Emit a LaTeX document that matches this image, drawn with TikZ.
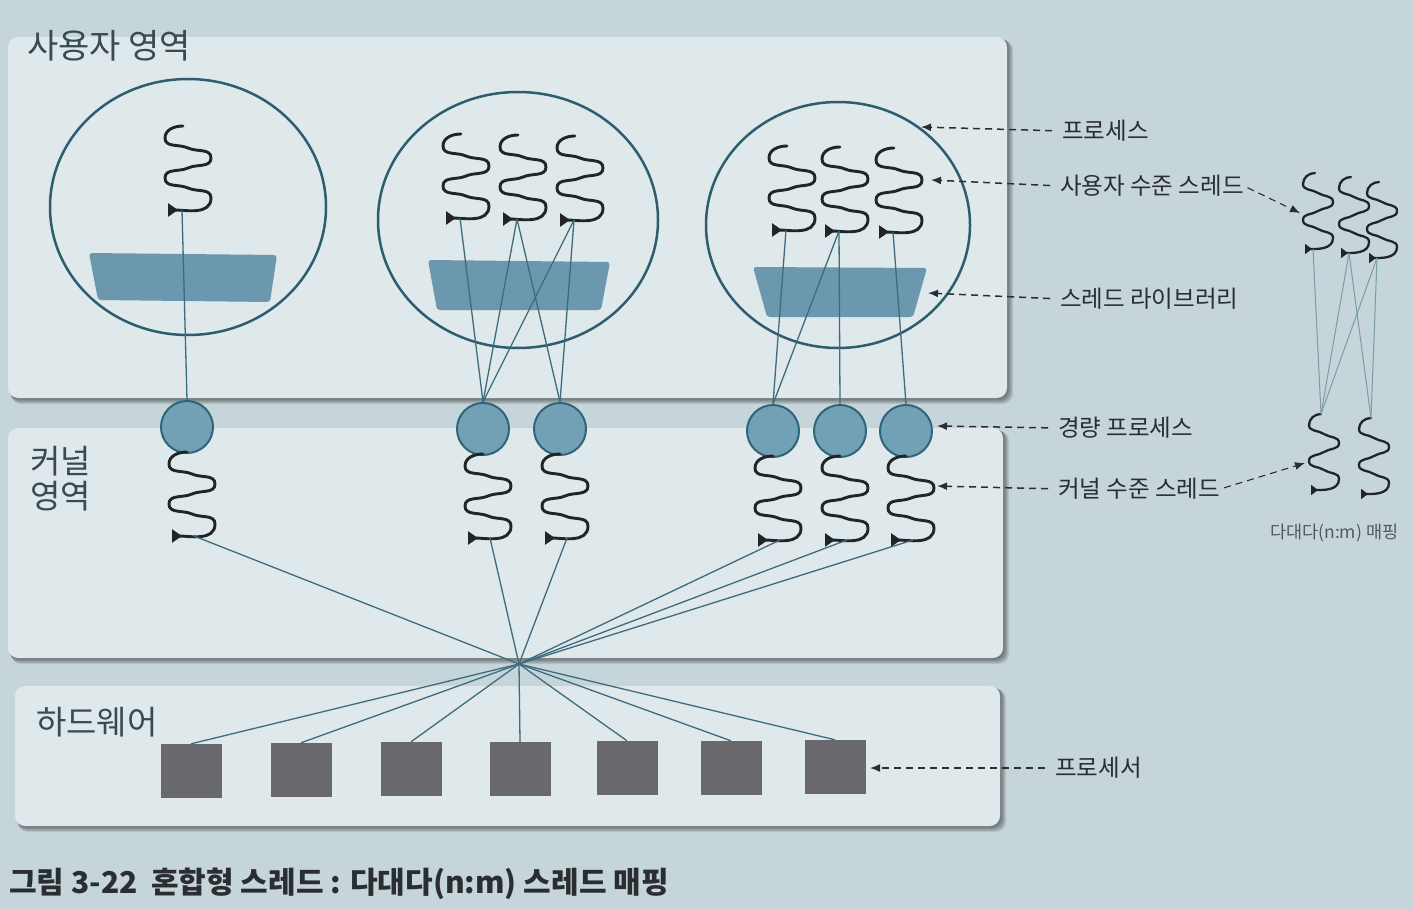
\documentclass[tikz,border=0pt]{standalone}
\usepackage{fontspec}
\setmainfont{Noto Sans CJK KR}
\usetikzlibrary{shapes.geometric,arrows.meta}
\definecolor{bgc}{HTML}{C6D5D9}
\definecolor{panelc}{HTML}{DFE8EB}
\definecolor{ellc}{HTML}{2D5D6E}
\definecolor{libc}{HTML}{6B98AE}
\definecolor{lwpc}{HTML}{72A0B5}
\definecolor{lwpb}{HTML}{2E6579}
\definecolor{conc}{HTML}{3D6C7D}
\definecolor{minic}{HTML}{7C9CA8}
\definecolor{thrc}{HTML}{222526}
\definecolor{cpuc}{HTML}{69696D}
\definecolor{txtc}{HTML}{384A52}
\definecolor{lblc}{HTML}{2A2E30}
\tikzset{
  thrline/.style={draw=thrc, line width=2.9pt, line cap=round,
    -{Triangle[reversed,length=10pt,width=13pt]}},
  thr/.pic={
    \draw[thrline] (-5,0) to[out=180,in=90] (-23,12)
      to[out=-90,in=155] (0,22) to[out=-25,in=90] (23,32)
      to[out=-90,in=25] (0,42) to[out=205,in=90] (-23,52)
      to[out=-90,in=155] (0,62) to[out=-25,in=90] (23,72)
      to[out=-90,in=0] (-20,84);
    \coordinate (-head) at (-5,0);
    \coordinate (-tail) at (-6,84);
    \coordinate (-ktail) at (2,84);
  },
  mthr/.pic={
    \draw[draw=thrc, line width=2.3pt, line cap=round,
      -{Triangle[reversed,length=7pt,width=10pt]}] (-3,0) to[out=180,in=90] (-15,11)
      to[out=-90,in=145] (0,20) to[out=-35,in=90] (15,29)
      to[out=-90,in=35] (0,38) to[out=215,in=90] (-15,47)
      to[out=-90,in=145] (0,56) to[out=-35,in=90] (15,65)
      to[out=-90,in=0] (-13,76);
    \coordinate (-head) at (-3,0);
    \coordinate (-tail) at (-5,76);
  },
  procell/.style={ellipse, draw=ellc, line width=2.5pt, inner sep=0pt},
  lwp/.style={ellipse, draw=lwpb, fill=lwpc, line width=2pt, inner sep=0pt,
    minimum width=52pt, minimum height=52pt},
  cpu/.style={rectangle, fill=cpuc, inner sep=0pt, minimum width=61pt, minimum height=54pt},
  libshape/.style={fill=libc, rounded corners=3pt},
  con/.style={draw=conc, line width=1.3pt},
  minicon/.style={draw=minic, line width=1pt},
  dasharr/.style={draw=lblc, line width=1.5pt, dash pattern=on 7pt off 5pt,
    -{Latex[length=10pt,width=8pt]}},
  lbl/.style={anchor=west, inner sep=0pt, font=\fontsize{23.5}{27}\selectfont, text=lblc},
  area/.style={anchor=west, inner sep=0pt, font=\fontsize{33}{37}\selectfont, text=txtc},
  panel/.style={fill=panelc, rounded corners=10pt},
}
\begin{document}
\begin{tikzpicture}[x=1pt,y=-1pt]
\useasboundingbox (0,0) rectangle (1413,909);
\fill[bgc] (0,0) rectangle (1413,909);

% panels with soft shadows
\foreach \a/\b/\c/\d in {8/37/1007/398, 8/428/1003/658, 15/686/1000/826}{
  \foreach \s in {1,...,6}{
    \fill[black, opacity=0.09, rounded corners=10pt] (\a+\s*0.5,\b+\s*0.5) rectangle (\c+\s,\d+\s);
  }
  \fill[panel] (\a,\b) rectangle (\c,\d);
}

% area labels
\node[area, font=\fontsize{34}{38}\selectfont] (ua) at (27,46) {사용자 영역};
\node[area] (ka1) at (30,461) {커널};
\node[area] (ka2) at (30,496) {영역};
\node[area] (hw) at (36,722) {하드웨어};

% processes
\node[procell, minimum width=276pt, minimum height=256pt] (p1) at (188,207) {};
\node[procell, minimum width=280pt, minimum height=256pt] (p2) at (518,220) {};
\node[procell, minimum width=264pt, minimum height=246pt] (p3) at (838,225) {};

% thread libraries
\fill[libshape] (89,253) -- (277,255) -- (270,302) -- (98,300) -- cycle;
\fill[libshape] (428,260) -- (610,262) -- (601,310) -- (437,310) -- cycle;
\fill[libshape] (753,267) -- (927,268) -- (913,317) -- (767,317) -- cycle;

% user threads
\pic (u11) at (188,126) {thr};
\pic (u21) at (466,134) {thr};
\pic (u22) at (523,135) {thr};
\pic (u23) at (580,136) {thr};
\pic (u31) at (792,146) {thr};
\pic (u32) at (845,147) {thr};
\pic (u33) at (899,148) {thr};

% light weight processes
\node[lwp] (w11) at (187,427) {};
\node[lwp] (w21) at (483,429) {};
\node[lwp] (w22) at (560,429) {};
\node[lwp] (w31) at (773,431) {};
\node[lwp] (w32) at (840,431) {};
\node[lwp] (w33) at (906,431) {};

% user thread -> LWP
\draw[con] (u11-tail) -- (w11.north);
\draw[con] (u21-tail) -- (w21.north);
\draw[con] (u22-tail) -- (w21.north);
\draw[con] (u22-tail) -- (w22.north);
\draw[con] (u23-tail) -- (w21.north);
\draw[con] (u23-tail) -- (w22.north);
\draw[con] (u31-tail) -- (w31.north);
\draw[con] (u32-tail) -- (w31.north);
\draw[con] (u32-tail) -- (w32.north);
\draw[con] (u33-tail) -- (w33.north);

% kernel threads
\pic (k11) at (192,452) {thr};
\pic (k21) at (488,454) {thr};
\pic (k22) at (565,454) {thr};
\pic (k31) at (778,456) {thr};
\pic (k32) at (845,456) {thr};
\pic (k33) at (911,456) {thr};

% processors
\node[cpu] (c1) at (191,771) {};
\node[cpu] (c2) at (301,770) {};
\node[cpu] (c3) at (411,769) {};
\node[cpu] (c4) at (520,769) {};
\node[cpu] (c5) at (627,768) {};
\node[cpu] (c6) at (731,768) {};
\node[cpu] (c7) at (835,767) {};

\coordinate (hub) at (519,664);
\foreach \k in {k11,k21,k22,k31,k32,k33}{
  \draw[con] (\k-ktail) -- (hub);
}
\foreach \c in {c1,c2,c3,c4,c5,c6,c7}{
  \draw[con] (hub) -- (\c.north);
}

% right side labels
\node[lbl] (lp) at (1062,131) {프로세스};
\node[lbl] (lu) at (1060,186) {사용자 수준 스레드};
\node[lbl] (ll) at (1060,299) {스레드 라이브러리};
\node[lbl] (lw) at (1058,428) {경량 프로세스};
\node[lbl] (lk) at (1058,489) {커널 수준 스레드};
\node[lbl] (lc) at (1055,768) {프로세서};

\coordinate (tp) at (921,127);
\coordinate (tu) at (931,180);
\coordinate (tl) at (928,293);
\coordinate (tw) at (937,426);
\coordinate (tk) at (937,486);
\coordinate (tc) at (870,768);
\draw[dasharr, shorten <=10pt] (lp.west) -- (tp);
\draw[dasharr, shorten <=10pt] (lu.west) -- (tu);
\draw[dasharr, shorten <=10pt] (ll.west) -- (tl);
\draw[dasharr, shorten <=10pt] (lw.west) -- (tw);
\draw[dasharr, shorten <=10pt] (lk.west) -- (tk);
\draw[dasharr, shorten <=10pt] (lc.west) -- (tc);

% mini n:m diagram
\pic (m1) at (1318,173) {mthr};
\pic (m2) at (1354,177) {mthr};
\pic (m3) at (1382,182) {mthr};
\pic (n1) at (1324,414) {mthr};
\pic (n2) at (1374,418) {mthr};
\draw[minicon] (m1-tail) -- (n1-head);
\draw[minicon] (m2-tail) -- (n1-head);
\draw[minicon] (m2-tail) -- (n2-head);
\draw[minicon] (m3-tail) -- (n1-head);
\draw[minicon] (m3-tail) -- (n2-head);
\coordinate (mu) at (1300,213);
\coordinate (mk) at (1305,463);
\draw[dasharr, line width=1.1pt, shorten <=4pt] (lu.east) -- (mu);
\draw[dasharr, line width=1.1pt, shorten <=4pt] (lk.east) -- (mk);
\node[anchor=west, inner sep=0pt, font=\fontsize{17.5}{20}\selectfont, text=lblc!80] (mcap) at (1270,533) {다대다(n:m) 매핑};

% caption
\node[anchor=west, inner sep=0pt, font=\fontsize{30}{34}\selectfont\bfseries, text=lblc] (cap) at (9,884) {그림 3-22\ \ 혼합형 스레드 : 다대다(n:m) 스레드 매핑};
\end{tikzpicture}
\end{document}
